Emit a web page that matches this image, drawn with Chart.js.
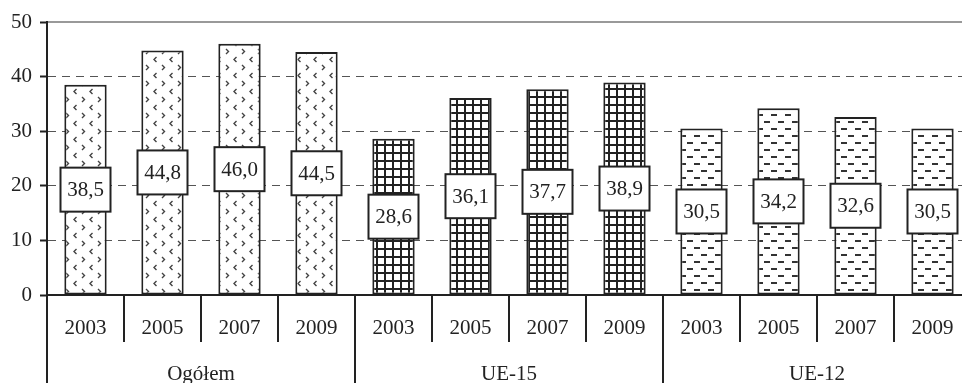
<!DOCTYPE html>
<html>
<head>
<meta charset="utf-8">
<script src="https://cdn.jsdelivr.net/npm/chart.js@4/dist/chart.umd.min.js"></script>
<style>
  html, body { margin: 0; padding: 0; background: #fff; overflow: hidden; }
  #wrap { width: 971px; height: 383px; }
</style>
</head>
<body>
<div id="wrap"><canvas id="wykres" width="971" height="383"></canvas></div>
<script>
const lata = ['2003', '2005', '2007', '2009', '2003', '2005', '2007', '2009', '2003', '2005', '2007', '2009'];
const grupy = ['Ogółem', 'UE-15', 'UE-12'];
const ogolem = [38.5, 44.8, 46.0, 44.5];
const ue15 = [28.6, 36.1, 37.7, 38.9];
const ue12 = [30.5, 34.2, 32.6, 30.5];
const yTicks = [0, 10, 20, 30, 40, 50];

const wartosci = [...ogolem, ...ue15, ...ue12];
const czcionka = { family: 'Liberation Serif', size: 21 };
const ciemny = '#222';

// wzory wypełnienia słupków
function wzor(rodzaj) {
    const c = document.createElement('canvas');
    const g = c.getContext('2d');
    if (rodzaj === 'szewrony') {
        c.width = 16; c.height = 16;
        g.fillStyle = '#fff'; g.fillRect(0, 0, 16, 16);
        g.strokeStyle = '#444'; g.lineWidth = 1.4;
        g.beginPath(); g.moveTo(2, 1); g.lineTo(4.5, 3.5); g.lineTo(2, 6); g.stroke();
        g.beginPath(); g.moveTo(12.5, 9); g.lineTo(10, 11.5); g.lineTo(12.5, 14); g.stroke();
    } else if (rodzaj === 'kratka') {
        c.width = 8; c.height = 8;
        g.fillStyle = '#fff'; g.fillRect(0, 0, 8, 8);
        g.fillStyle = ciemny;
        g.fillRect(0, 0, 8, 2);
        g.fillRect(0, 0, 2, 8);
    } else {
        c.width = 14; c.height = 14;
        g.fillStyle = '#fff'; g.fillRect(0, 0, 14, 14);
        g.fillStyle = '#333';
        g.fillRect(1, 2, 6, 2);
        g.fillRect(8, 9, 6, 2);
    }
    return g.createPattern(c, 'repeat');
}

const wzory = [wzor('szewrony'), wzor('kratka'), wzor('kreski')];
const tla = wartosci.map((v, i) => wzory[Math.floor(i / 4)]);

const etykiety = {
    id: 'etykiety',
    afterDatasetsDraw(chart) {
        const ctx = chart.ctx;
        const meta = chart.getDatasetMeta(0);
        ctx.save();
        ctx.font = '21px "Liberation Serif"';
        ctx.textAlign = 'center';
        ctx.textBaseline = 'middle';
        meta.data.forEach((bar, i) => {
            const y = (bar.y + bar.base) / 2;
            ctx.fillStyle = '#fff';
            ctx.fillRect(bar.x - 25, y - 22, 50, 44);
            ctx.strokeStyle = ciemny;
            ctx.lineWidth = 2;
            ctx.strokeRect(bar.x - 25, y - 22, 50, 44);
            ctx.fillStyle = ciemny;
            ctx.fillText(wartosci[i].toFixed(1).replace('.', ','), bar.x, y + 1);
        });
        ctx.restore();
    }
};

new Chart(document.getElementById('wykres'), {
    type: 'bar',
    data: {
        labels: lata,
        datasets: [{
            data: wartosci,
            backgroundColor: tla,
            borderColor: ciemny,
            borderWidth: 2,
            borderSkipped: false,
            categoryPercentage: 1,
            barPercentage: 0.55
        }]
    },
    options: {
        responsive: false,
        animation: false,
        devicePixelRatio: 1,
        layout: { padding: { top: 22, left: 0, right: 0, bottom: 0 } },
        plugins: { legend: { display: false }, tooltip: { enabled: false } },
        scales: {
            x: {
                type: 'category',
                position: 'bottom',
                weight: 0,
                offset: true,
                grid: { offset: true, drawOnChartArea: false, color: ciemny, lineWidth: 2, tickLength: 47 },
                border: { display: true, color: ciemny, width: 2 },
                ticks: { font: czcionka, color: ciemny, padding: -26, maxRotation: 0, autoSkip: false },
                afterFit: s => { s.height = 47; }
            },
            x2: {
                type: 'category',
                position: 'bottom',
                weight: 1,
                labels: grupy,
                offset: true,
                grid: { offset: true, drawOnChartArea: false, color: ciemny, lineWidth: 2, tickLength: 41 },
                border: { display: false },
                ticks: { font: czcionka, color: ciemny, padding: -21, maxRotation: 0, autoSkip: false },
                afterFit: s => { s.height = 41; }
            },
            xTop: {
                type: 'category',
                position: 'top',
                labels: grupy,
                grid: { display: false },
                border: { display: true, color: '#999', width: 2 },
                ticks: { display: false },
                afterFit: s => { s.height = 0; }
            },
            y: {
                min: 0,
                max: 50,
                afterBuildTicks: s => { s.ticks = yTicks.map(v => ({ value: v })); },
                grid: {
                    color: c => (c.tick && (c.tick.value === 0 || c.tick.value === 50)) ? 'rgba(0,0,0,0)' : '#555',
                    lineWidth: 1,
                    tickColor: ciemny,
                    tickWidth: 2,
                    tickLength: 7
                },
                border: { display: true, color: ciemny, width: 2, dash: [8, 6] },
                ticks: { font: czcionka, color: ciemny, padding: 8 },
                afterFit: s => { s.width = 47; }
            }
        }
    },
    plugins: [etykiety]
});
</script>
</body>
</html>
